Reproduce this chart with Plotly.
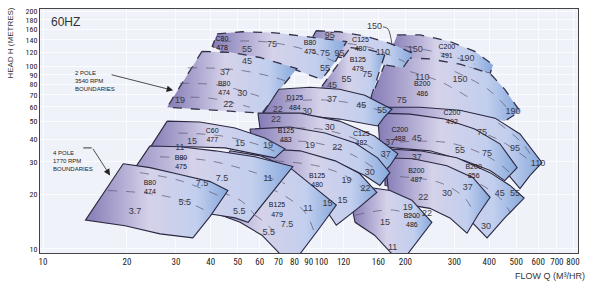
import math
import plotly.graph_objects as go

# ---------------- axis ticks ----------------
X_TICKS = [10, 20, 30, 40, 50, 60, 70, 80, 90, 100, 120, 160, 200, 300, 400, 500, 600, 700, 800]
Y_TICKS = [10, 20, 30, 40, 50, 60, 70, 80, 90, 100, 120, 140, 160, 180, 200]

# ---------------- pump operating regions (flow Q m3/h, head H m) ----------------
# 2 pole 3540 rpm (dashed boundaries)
C200_491_Q = [187, 226, 289, 355, 413, 403, 341, 266, 208, 176]
C200_491_H = [149, 149, 137, 121, 102, 91.5, 98.3, 106, 109, 118]
B200_486_2P_Q = [170, 191, 245, 314, 403, 455, 516, 455, 341, 245, 183, 149]
B200_486_2P_H = [106, 112, 110, 103, 91.5, 75.0, 56.9, 50.2, 53.4, 56.9, 58.3, 64.5]
C125_480_Q = [95.6, 116, 143, 176, 213, 196, 169, 137, 107, 87.2]
C125_480_H = [157, 155, 147, 134, 118, 98.3, 102, 109, 114, 121]
B125_479_2P_Q = [127, 146, 169, 159, 149, 121, 97.2]
B125_479_2P_H = [127, 124, 117, 88.1, 64.5, 68.7, 73.1]
C80_478_Q = [42.2, 51.9, 68.0, 87.2, 107, 123, 112, 100, 80.2, 60.1, 45.0, 40.5]
C80_478_H = [151, 155, 153, 146, 140, 137, 106, 84.9, 96.2, 109, 118, 129]
B80_474_2P_Q = [37.2, 46.9, 60.1, 81.6, 70.9, 61.1, 46.9, 36.6, 27.9]
B80_474_2P_H = [121, 119.5, 112, 97.4, 75.0, 55.5, 56.9, 58.3, 59.8]

# 4 pole 1770 rpm (solid boundaries)
C200_492_Q = [169, 226, 314, 420, 516, 619, 561, 516, 455, 371, 266, 191]
C200_492_H = [59.8, 59.8, 57.6, 52.1, 42.7, 29.7, 25.3, 21.4, 26.9, 34.5, 41.6, 45.4]
C200_488_Q = [159, 208, 277, 355, 437, 504, 455, 403, 327, 245, 183, 162]
C200_488_H = [55.5, 54.8, 51.5, 45.4, 37.7, 27.9, 23.7, 26.9, 30.4, 34.5, 35.8, 36.7]
D125_484_Q = [70.3, 90.9, 116, 143, 179, 168, 159, 116, 83.7, 61.1]
D125_484_H = [75.0, 76.9, 75.0, 69.5, 58.3, 52.8, 47.2, 51.5, 54.1, 54.1]
B200_856_Q = [169, 226, 306, 403, 475, 534, 455, 393, 355, 314, 266, 208, 169]
B200_856_H = [35.4, 34.5, 31.6, 26.2, 22.3, 19.0, 14.8, 11.5, 13.5, 16.3, 18.5, 20.9, 22.3]
B200_487_Q = [169, 213, 282, 350, 403, 364, 333, 289, 245, 208, 176]
B200_487_H = [31.6, 31.2, 28.6, 24.6, 19.2, 15.3, 12.2, 14.8, 16.7, 17.4, 17.4]
C125_482_Q = [59.1, 83.7, 116, 155, 188, 176, 162, 137, 107, 80.2, 61.1]
C125_482_H = [55.5, 55.5, 50.2, 41.6, 33.2, 28.6, 25.3, 30.4, 34.5, 36.7, 38.1]
B125_483_Q = [55.3, 77.0, 103, 132, 159, 176, 162, 143, 121, 94.7, 73.9, 57.6]
B125_483_H = [45.4, 46.6, 43.2, 38.1, 31.6, 26.2, 22.3, 25.3, 28.6, 32.4, 33.2, 33.2]
B200_486_4P_Q = [127, 149, 176, 211, 249, 226, 204, 179, 155, 132]
B200_486_4P_H = [18.5, 21.7, 20.9, 18.5, 14.0, 11.5, 9.4, 9.4, 11.9, 14.0]
B125_480_Q = [61.1, 83.7, 112, 137, 158, 135, 113, 103, 90.9, 77.0, 62.6]
B125_480_H = [35.4, 34.5, 30.4, 25.9, 20.4, 16.7, 13.5, 16.7, 20.4, 24.3, 26.9]
C60_477_Q = [27.9, 36.6, 48.9, 62.6, 73.9, 68.0, 57.6, 45.0, 33.7, 24.2]
C60_477_H = [50.2, 49.6, 46.0, 40.6, 35.4, 31.6, 33.2, 35.8, 36.3, 35.8]
B125_479_4P_Q = [46.9, 60.1, 77.0, 94.7, 113, 97.2, 83.7, 70.9, 61.1, 51.0, 40.8, 36.6]
B125_479_4P_H = [34.5, 32.4, 27.9, 21.7, 17.4, 12.7, 9.4, 9.4, 11.9, 14.0, 15.9, 17.4]
B80_475_4P_Q = [24.2, 31.0, 41.5, 57.6, 78.9, 65.3, 54.5, 48.9, 40.5, 31.0, 17.4]
B80_475_4P_H = [36.7, 36.3, 34.5, 32.0, 28.3, 19.6, 14.0, 14.8, 15.5, 16.3, 17.4]
B80_474_4P_Q = [19.4, 24.2, 31.0, 39.8, 46.1, 39.8, 34.5, 26.3, 19.7, 14.2]
B80_474_4P_H = [29.3, 27.9, 25.6, 23.4, 20.9, 15.1, 11.5, 12.1, 13.4, 14.4]

# ---------------- internal (dashed) performance curves ----------------
DASH_B80_474_2P = [([33.1, 48.9, 68.0, 78.3], [98.3, 96.2, 87.0, 80.8]),
                   ([31.0, 43.2, 61.1], [80.8, 78.8, 67.8]),
                   ([29.1, 39.8, 55.3], [67.8, 67.0, 59.8])]
DASH_C80_478 = [([43.9, 61.1, 83.7, 112], [137, 137, 126, 106])]
DASH_C125_480 = [([107, 149, 199], [137, 127, 106])]
DASH_C200_491 = [([199, 277, 355], [129, 117, 103])]
DASH_B200_486_2P = [([301, 396, 475], [93.8, 75.0, 56.9]),
                    ([208, 266, 341], [93.8, 82.8, 67.0])]
DASH_D125_484 = [([73.9, 107, 149, 173], [64.5, 65.3, 59.8, 54.8])]
DASH_C125_482 = [([69.8, 98.8, 137, 176], [45.4, 45.4, 39.1, 30.4])]
DASH_B125_483 = [([61.1, 90.9, 127, 159], [38.1, 38.6, 33.2, 26.9])]
DASH_B125_480 = [([68.0, 98.8, 127, 149], [30.4, 28.3, 24.3, 19.6])]
DASH_C200_492 = [([191, 289, 420, 561], [49.0, 47.7, 40.6, 30.4]),
                 ([431, 516, 585], [49.0, 39.1, 30.4])]
DASH_C200_488 = [([191, 289, 403, 475], [38.6, 38.1, 31.6, 26.2])]
DASH_B200_856 = [([245, 341, 437, 475], [28.6, 24.3, 19.0, 15.9])]
DASH_B200_487 = [([191, 266, 327, 355], [24.9, 23.1, 19.0, 15.3])]
DASH_B125_479_4P = [([48.9, 68.0, 87.2, 94.7], [24.3, 20.9, 15.9, 11.9]),
                    ([43.2, 57.6, 70.9], [17.4, 15.3, 11.5])]
DASH_B80_475_4P = [([26.3, 39.8, 57.6, 73.9], [32.0, 30.4, 26.2, 22.8]),
                   ([24.2, 36.6, 51.0, 57.6], [23.1, 21.7, 18.5, 15.3])]
DASH_C60_477 = [([30.6, 43.9, 61.1, 70.9], [43.2, 41.6, 36.7, 33.2])]
DASH_B80_474_4P = [([17.1, 24.2, 32.3, 40.5], [20.9, 20.1, 18.3, 15.5]),
                   ([22.3, 31.0, 43.2], [26.2, 23.7, 19.45])]
DASH_B200_486_4P = [([132, 183, 234], [15.3, 16.3, 14.0])]

# ---------------- labels ----------------
MODEL_TEXT = ["C80<br>478", "B80<br>475", "C125<br>480", "B125<br>479", "B80<br>474",
              "C200<br>491", "B200<br>486", "D125<br>484", "C125<br>482", "C200<br>488",
              "C200<br>492", "B200<br>487", "B200<br>856", "B125<br>483", "B125<br>480",
              "B125<br>479", "B200<br>486", "C60<br>477", "B80<br>475", "B80<br>474"]
MODEL_Q = [43.9, 90.9, 138, 135, 44.7, 282, 230, 80.2, 139, 191,
           294, 219, 352, 74.5, 96.4, 69.2, 211, 40.5, 31.3, 24.2]
MODEL_H = [133.6, 127, 132, 102, 75.9, 121, 75.0, 62.9, 40.1, 42.1,
           52.1, 25.3, 26.6, 41.6, 23.7, 16.3, 14.2, 41.6, 29.7, 21.7]

KW_TEXT = ["55", "75", "75", "95", "95", "110", "55", "75", "55", "45",
           "45", "37", "30", "22", "19", "150", "190", "110", "150", "75", "190",
           "22", "30", "37", "45", "55", "22", "30", "37", "45", "37", "55", "75",
           "75", "95", "110", "37", "22", "30", "37", "45", "55", "30",
           "19", "22", "30", "22", "19", "15", "15", "11", "7.5", "5.5",
           "19", "22", "15", "11", "15", "15", "19", "11", "7.5", "11", "5.5",
           "7.5", "5.5", "3.7", "150"]
KW_Q = [54.0, 66.4, 103, 116, 107, 166, 103, 146, 123, 109,
        54.0, 45.0, 51.9, 46.2, 31.0, 217, 333, 230, 314, 194, 487,
        69.7, 88.7, 109, 139, 165, 68.6, 107, 170, 220, 176, 314, 393,
        377, 495, 599, 220, 232, 282, 335, 437, 495, 390,
        90.9, 114, 149, 144, 123, 119, 105, 89.4, 75.1, 64.7,
        204, 239, 169, 180, 34.3, 51.0, 64.2, 31.0, 43.9, 64.2, 50.6,
        37.2, 32.3, 21.4, 155]
KW_H = [124, 132, 117, 118, 147, 119.5, 97.4, 90.3, 84.9, 78.8,
        106, 92.6, 71.3, 61.4, 65.3, 124, 110, 87.0, 84.9, 64.5, 56.2,
        57.6, 56.2, 66.1, 60.6, 56.9, 50.8, 46.0, 32.8, 40.1, 38.1, 34.5, 33.2,
        43.2, 35.4, 29.3, 31.6, 19.0, 20.1, 21.7, 20.1, 20.1, 13.2,
        36.7, 35.8, 26.2, 21.4, 23.7, 18.3, 17.8, 16.7, 13.5, 12.2,
        16.9, 15.6, 14.0, 10.15, 38.6, 37.7, 36.7, 35.8, 24.3, 24.3, 15.9,
        22.8, 18.0, 15.9, 165]

# leader lines
LEADER_150_Q = [166, 173, 179]
LEADER_150_H = [165, 161, 132]
LEADER_4P_Q = [13.94, 14.95]
LEADER_4P_H = [35.8, 35.8]

REGIONS = [
    (C200_491_Q, C200_491_H, 2, DASH_C200_491),
    (B200_486_2P_Q, B200_486_2P_H, 2, DASH_B200_486_2P),
    (C125_480_Q, C125_480_H, 2, DASH_C125_480),
    (B125_479_2P_Q, B125_479_2P_H, 2, []),
    (C80_478_Q, C80_478_H, 2, DASH_C80_478),
    (B80_474_2P_Q, B80_474_2P_H, 2, DASH_B80_474_2P),
    (C200_492_Q, C200_492_H, 4, DASH_C200_492),
    (C200_488_Q, C200_488_H, 4, DASH_C200_488),
    (D125_484_Q, D125_484_H, 4, DASH_D125_484),
    (B200_856_Q, B200_856_H, 4, DASH_B200_856),
    (B200_487_Q, B200_487_H, 4, DASH_B200_487),
    (C125_482_Q, C125_482_H, 4, DASH_C125_482),
    (B125_483_Q, B125_483_H, 4, DASH_B125_483),
    (B200_486_4P_Q, B200_486_4P_H, 4, DASH_B200_486_4P),
    (B125_480_Q, B125_480_H, 4, DASH_B125_480),
    (C60_477_Q, C60_477_H, 4, DASH_C60_477),
    (B125_479_4P_Q, B125_479_4P_H, 4, DASH_B125_479_4P),
    (B80_475_4P_Q, B80_475_4P_H, 4, DASH_B80_475_4P),
    (B80_474_4P_Q, B80_474_4P_H, 4, DASH_B80_474_4P),
]

GRAD = [[0.0, "#847bb5"], [0.45, "#d5d2ea"], [0.78, "#c2cfee"], [1.0, "#86a8dc"]]
NARROW = "Liberation Sans Narrow, Arial Narrow, Liberation Sans, Arial"
TICKFONT = "Liberation Sans Narrow, Arial Narrow, Roboto Condensed, Liberation Sans, Arial"

fig = go.Figure()
for q, h, pole, dashes in REGIONS:
    fig.add_trace(go.Scatter(
        x=q + [q[0]], y=h + [h[0]], mode="lines", fill="toself",
        fillgradient=dict(type="horizontal", colorscale=GRAD),
        line=dict(color="#2a2740" if pole == 4 else "#34324a",
                  width=1.1 if pole == 4 else 1.3,
                  dash="solid" if pole == 4 else "dash"),
        hoverinfo="skip", showlegend=False))
    for dq, dh in dashes:
        fig.add_trace(go.Scatter(
            x=dq, y=dh, mode="lines", line=dict(color="#5a5870", width=0.7, dash="dash", shape="spline"),
            hoverinfo="skip", showlegend=False))

fig.add_trace(go.Scatter(x=KW_Q, y=KW_H, mode="text", text=KW_TEXT,
                         textfont=dict(family="Liberation Sans, Arial", size=9, color="#3a3a44"),
                         hoverinfo="skip", showlegend=False))
fig.add_trace(go.Scatter(x=MODEL_Q, y=MODEL_H, mode="text", text=MODEL_TEXT,
                         textfont=dict(family=NARROW, size=7, color="#15151f"),
                         hoverinfo="skip", showlegend=False))
fig.add_trace(go.Scatter(x=LEADER_150_Q, y=LEADER_150_H, mode="lines",
                         line=dict(color="#333", width=0.8, shape="spline"),
                         hoverinfo="skip", showlegend=False))
fig.add_trace(go.Scatter(x=LEADER_4P_Q, y=LEADER_4P_H, mode="lines",
                         line=dict(color="#222", width=0.9),
                         hoverinfo="skip", showlegend=False))

annotations = [
    dict(text="60HZ", xref="paper", yref="paper", x=0.017, y=0.948, xanchor="left", yanchor="middle",
         showarrow=False, font=dict(family="Liberation Sans, Arial", size=12, color="#333")),
    dict(text="2 POLE<br>3540 RPM<br>BOUNDARIES", xref="paper", yref="paper", x=0.061, y=0.703,
         xanchor="left", yanchor="middle", align="left", showarrow=False,
         font=dict(family=NARROW, size=6, color="#222")),
    dict(text="4 POLE<br>1770 RPM<br>BOUNDARIES", xref="paper", yref="paper", x=0.02, y=0.378,
         xanchor="left", yanchor="middle", align="left", showarrow=False,
         font=dict(family=NARROW, size=6, color="#222")),
    dict(text="", x=math.log10(29.3), y=math.log10(74.0), xref="x", yref="y",
         ax=-63, ay=-16, showarrow=True, arrowhead=2, arrowsize=1.6, arrowwidth=0.8, arrowcolor="#222"),
    dict(text="", x=math.log10(17.4), y=math.log10(25.3), xref="x", yref="y",
         ax=-18, ay=-28, showarrow=True, arrowhead=2, arrowsize=1.6, arrowwidth=0.8, arrowcolor="#222"),
    dict(text="HEAD H (METRES)", xref="paper", yref="paper", x=-0.054, y=0.862, textangle=-90,
         showarrow=False, xanchor="center", yanchor="middle",
         font=dict(family=NARROW, size=8, color="#333")),
    dict(text="FLOW Q (M³/HR)", xref="paper", yref="paper", x=1.017, y=-0.095,
         xanchor="right", yanchor="middle", showarrow=False,
         font=dict(family=NARROW, size=9, color="#333")),
]

fig.update_layout(
    width=590, height=294,
    margin=dict(l=40, r=12, t=7, b=41),
    paper_bgcolor="white",
    plot_bgcolor="#eff2f9",
    annotations=annotations,
    showlegend=False,
    xaxis=dict(type="log", range=[0.989, 2.921], tickvals=X_TICKS,
               ticktext=[str(v) for v in X_TICKS], ticks="", tickangle=0,
               tickfont=dict(family=TICKFONT, size=9, color="#222"),
               showgrid=True, gridcolor="#fbfcff", gridwidth=1, zeroline=False,
               showline=True, linecolor="#444", linewidth=1, mirror=True),
    yaxis=dict(type="log", range=[0.978, 2.315], tickvals=Y_TICKS,
               ticktext=[str(v) for v in Y_TICKS], ticks="",
               tickfont=dict(family=TICKFONT, size=8, color="#222"),
               showgrid=True, gridcolor="#fbfcff", gridwidth=1, zeroline=False,
               showline=True, linecolor="#444", linewidth=1, mirror=True),
)

fig.write_html("out.html")
